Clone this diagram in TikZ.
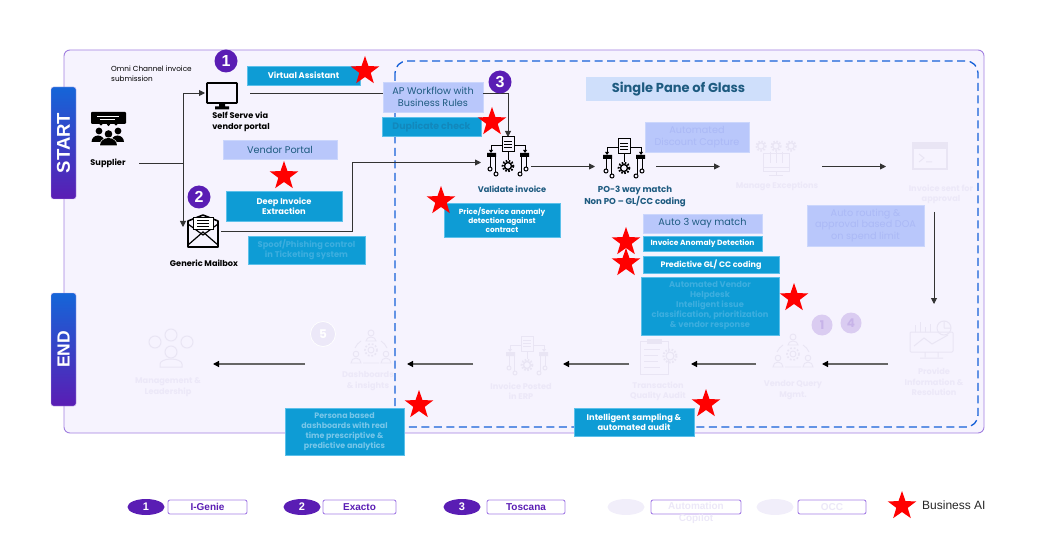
\documentclass[tikz,border=0pt]{standalone}
\usepackage{fontspec}
\setmainfont{Poppins}
\newfontfamily\arialf{Liberation Sans}
\usetikzlibrary{arrows.meta,shapes.geometric,calc}
\definecolor{panelfill}{HTML}{F6F3FE}
\definecolor{panelline}{HTML}{A17FE0}
\definecolor{dashblue}{HTML}{1560D8}
\definecolor{tealbox}{HTML}{0E9CD5}
\definecolor{tealedge}{HTML}{5CC0EA}
\definecolor{peri}{HTML}{B9C7FB}
\definecolor{periedge}{HTML}{CBD6FC}
\definecolor{ink}{HTML}{1E5B80}
\definecolor{pale}{HTML}{ECE8F8}
\definecolor{paleicon}{HTML}{E9E5F4}
\definecolor{violet}{HTML}{5A1DB4}
\definecolor{flowline}{HTML}{333333}
\definecolor{revline}{HTML}{666666}
\definecolor{fadeteal}{HTML}{3DAEDF}
\definecolor{fadeperi}{HTML}{ABB9F6}
\definecolor{legendline}{HTML}{A67FE6}
\definecolor{tabtop}{HTML}{1565D8}
\definecolor{spogfill}{HTML}{CFDFFB}
\definecolor{dupink}{HTML}{1288BC}
\definecolor{pillpale}{HTML}{F1EEFA}
\tikzset{
  anch/.style={inner sep=0pt,outer sep=0pt,minimum width=#1},
  anch/.default=10pt,
  flatbox/.style={rectangle,inner sep=0pt,outer sep=0pt,align=center},
  teal/.style={flatbox,fill=tealbox,draw=tealedge,line width=.5pt,text=white,font=\bfseries\fontsize{8.3}{10}\selectfont},
  tealfade/.style={teal,text=fadeteal},
  peribox/.style={flatbox,fill=peri,draw=periedge,line width=.5pt,text=ink,font=\fontsize{9.7}{11.6}\selectfont},
  perifade/.style={peribox,text=fadeperi},
  bizstar/.style={star,star points=5,star point ratio=2.5,fill=red,inner sep=0pt,minimum size=30pt},
  badge/.style={circle,fill=violet,text=white,inner sep=0pt,minimum size=23pt,font=\arialf\bfseries\fontsize{16}{16}\selectfont},
  ghostbadge/.style={circle,inner sep=0pt,minimum size=21pt},
  lab/.style={align=center,inner sep=0pt,font=\bfseries\fontsize{8.2}{10.4}\selectfont},
  inklab/.style={lab,text=ink},
  palelab/.style={lab,text=pale},
  flow/.style={draw=flowline,line width=.9pt,-{Triangle[length=6pt,width=6pt]}},
  plainflow/.style={draw=flowline,line width=.9pt},
  rev/.style={draw=revline,line width=1.3pt,-{Triangle[length=6pt,width=6pt,color=black]}},
  legpill/.style={ellipse,inner sep=0pt,minimum width=37pt,minimum height=16pt,fill=violet,text=white,font=\arialf\bfseries\fontsize{11}{11}\selectfont},
  legbox/.style={rectangle,rounded corners=2pt,draw=legendline,line width=.9pt,fill=white,inner sep=0pt,text=violet,font=\arialf\bfseries\fontsize{10}{10}\selectfont},
  tab/.style={rectangle,rounded corners=2.5pt,top color=tabtop,bottom color=violet,draw=panelline!60,line width=.4pt,text=white,inner sep=0pt,minimum width=25pt,minimum height=#1,font=\arialf\bfseries\fontsize{18.5}{18.5}\selectfont},
}
% box from corners: name x1 y1 x2 y2 style text
\newcommand{\bx}[7]{\node[#6,minimum width={(#4-#2)*1pt},minimum height={(#5-#3)*1pt}] (#1) at ({(#2+#4)/2},{(#3+#5)/2}) {#7};}
% flowchart icon, centre x y colour
\newcommand{\procicon}[3]{%
\begin{scope}[shift={(#1,#2)},line width=1pt,draw=#3]
 \draw[fill=none] (-6,-20) rectangle (6,-5);
 \draw[line width=.7pt] (-4,-16)--(4,-16) (-4,-13)--(4,-13) (-4,-10)--(4,-10);
 \draw (-6,-11)-- (-17,-11)--(-17,-6) (6,-11)--(17,-11)--(17,-6) (0,-5)--(0,3);
 \fill[#3] (-19,-7)--(-15,-7)--(-17,-4)--cycle (19,-7)--(15,-7)--(17,-4)--cycle;
 \fill[#3] (-21,-4) rectangle (-12,0) (12,-4) rectangle (21,0);
 \draw (-18,0)--(-18,10) (-13,0)--(-13,15) (18,0)--(18,10) (13,0)--(13,15);
 \draw (-18,12) circle (2) (-12,17) circle (2) (18,12) circle (2) (12,17) circle (2);
 \draw[line width=1.4pt] (0,9) circle (3.5);
 \draw[line width=2pt,dash pattern=on 1.6pt off 1.6pt] (0,9) circle (5.4);
\end{scope}}
% circle of people icon
\newcommand{\peopleicon}[3]{%
\begin{scope}[shift={(#1,#2)},line width=.9pt,draw=#3]
 \draw (0,-16) circle (3) (-15,5) circle (2.8) (15,5) circle (2.8);
 \draw (-5,-8) arc (180:360:5 and 4) -- cycle;
 \draw (-20,14) arc (180:360:5 and 5) -- cycle (10,14) arc (180:360:5 and 5) -- cycle;
 \draw (-10,-8) to[bend right=15] (-16,-1) (10,-8) to[bend left=15] (16,-1) (-8,14)--(8,14);
 \draw (0,1) circle (3);
 \draw[line width=1.6pt,dash pattern=on 1.8pt off 1.8pt] (0,1) circle (6);
\end{scope}}
\begin{document}
\begin{tikzpicture}[x=1pt,y=-1pt]
\useasboundingbox (0,0) rectangle (1046,545);
% panels
\draw[rounded corners=6pt,draw=panelline,line width=.9pt,fill=panelfill] (64,50) rectangle (984,433);
\draw[rounded corners=12pt,draw=dashblue,line width=1.3pt,dash pattern=on 8pt off 4.5pt] (395,61) rectangle (978,427);
% side tabs
\node[tab=112pt] (starttab) at (63.5,143) {\rotatebox{90}{START}};
\node[tab=113pt,font=\arialf\bfseries\fontsize{17.5}{17.5}\selectfont] (endtab) at (63.5,349.5) {\rotatebox{90}{END}};
% invisible anchors of the stages
\node[anch=62pt,minimum height=12pt] (supplier) at (108,163) {};
\node[anch=45pt,minimum height=34pt] (selfserve) at (227.5,93) {};
\node[anch=38pt,minimum height=38pt] (mailbox) at (202,231) {};
\node[anch=50pt,minimum height=59pt] (validate) at (506,166.5) {};
\node[anch=61pt,minimum height=40pt] (pomatch) at (625.5,166.5) {};
\node[anch=102pt,minimum height=40pt] (manage) at (771,166.5) {};
\node[anch=96pt,minimum height=91pt] (approval) at (934,166.5) {};
\node[anch=92pt,minimum height=120pt] (provide) at (934,364) {};
\node[anch=66pt,minimum height=40pt] (vendorq) at (789,364) {};
\node[anch=62pt,minimum height=40pt] (audit) at (660,364) {};
\node[anch=90pt,minimum height=40pt] (posted) at (518,364) {};
\node[anch=102pt,minimum height=40pt] (dash) at (356,364) {};
\node[anch=86pt,minimum height=40pt] (mgmt) at (170,364) {};
\coordinate (j1) at (183,163);
\coordinate (bend) at (352,162.5);
% boxes (before connectors that pass behind)
\bx{ap}{383}{82}{483}{112}{peribox}{AP Workflow with\\Business Rules}
% connectors
\draw[plainflow] (supplier.east) -- (j1);
\draw[flow] (j1) |- (selfserve.west);
\draw[flow] (j1) -- ([yshift=4pt]j1 |- mailbox.west);
\draw[plainflow] (selfserve.east) -- (selfserve.east -| ap.west);
\coordinate (apr) at (selfserve.east -| ap.east);
\draw[flow] (apr) -| ([xshift=2pt]validate.north);
\draw[plainflow] (mailbox.east) -| (bend);
\draw[flow] (bend) -- ([yshift=4pt]validate.west);
\draw[flow] (validate.east) -- (pomatch.west);
\draw[flow] (pomatch.east) -- (manage.west);
\draw[flow] (manage.east) -- (approval.west);
\draw[flow] (approval.south) -- (provide.north);
\draw[rev] (provide.west) -- (vendorq.east);
\draw[rev] (vendorq.west) -- (audit.east);
\draw[rev] (audit.west) -- (posted.east);
\draw[rev] (posted.west) -- (dash.east);
\draw[rev] (dash.west) -- (mgmt.east);
% icons: supplier
\fill[rounded corners=1pt,black] (91,112) rectangle (126,124);
\fill[black] (101,124) circle (1.6) (108.5,124.5) circle (1.6) (116,124) circle (1.6);
\draw[white,line width=.8pt] (97,116)--(119,116) (100,119)--(115,119);
\fill[black] (99,131) circle (3.4) (118,131) circle (3.4) (108.5,134) circle (3.8);
\fill[black] (91.5,142) arc (180:360:6.5 and 6.5) -- cycle (111,142) arc (180:360:6.5 and 6.5) -- cycle;
\fill[white] (99,146) arc (180:360:9.5 and 8.5) -- cycle;
\fill[black] (100,145.5) arc (180:360:8.5 and 7.5) -- cycle;
% icon: monitor
\draw[black,line width=1.6pt,rounded corners=.5pt] (207,83) rectangle (237,103);
\fill[black] (219,103) rectangle (225,107) (215,106.5) rectangle (229,109.5);
% icon: mail
\draw[black,line width=1.6pt,line join=round] (188,221) -- (203,215) -- (218,221) -- (218,247) -- (188,247) -- cycle;
\draw[black,line width=1.2pt] (188,245) -- (203,232) -- (218,245);
\draw[black,line width=1.2pt] (188,224) -- (203,235) -- (218,224);
\fill[white,draw=black,line width=1pt] (193,218) rectangle (213,230);
\draw[black,line width=1pt] (197,221)--(209,221) (197,224)--(209,224) (197,227)--(209,227);
% icons: process
\procicon{508}{157}{black}
\procicon{624}{159}{black}
\procicon{527}{356}{paleicon}
% icon: exceptions (pale)
\begin{scope}[shift={(776,160)},draw=paleicon,line width=1pt]
 \draw[line width=1.1pt] (-15,-14) circle (3.2) (0,-14) circle (3.2) (15,-14) circle (3.2);
 \draw[line width=1.8pt,dash pattern=on 1.6pt off 1.6pt] (-15,-14) circle (4.8) (0,-14) circle (4.8) (15,-14) circle (4.8);
 \draw (-13,-6) rectangle (13,12) (-6,-8)--(-6,3) (0,-8)--(0,3) (6,-8)--(6,3) (-13,8)--(13,8) (0,12)--(0,16) (-7,16)--(7,16);
\end{scope}
% icon: terminal (pale)
\fill[paleicon] (912,142) rectangle (948,170);
\fill[panelfill] (914,149) rectangle (946,168);
\draw[paleicon,line width=1pt] (919,154)--(924,158)--(919,162) (926,162)--(932,162);
% icon: provide information (pale)
\begin{scope}[draw=paleicon,line width=1pt]
 \draw[rounded corners=1pt] (910,332) rectangle (953,352) (925,352)--(925,357) (938,352)--(938,357) (920,358)--(943,358);
 \draw (914,346)--(924,338)--(932,344)--(948,335);
 \draw (915,332)--(915,325) (920,332)--(920,322) (925,332)--(925,327) (930,332)--(930,324);
 \draw (944,328) circle (7) (944,328)--(944,321) (944,328)--(951,328);
\end{scope}
% icon: audit (pale)
\begin{scope}[draw=paleicon,line width=1pt]
 \draw (640,341) rectangle (668,374);
 \draw[fill=paleicon] (647,339) rectangle (661,343);
 \draw (644,349)--(660,349) (644,355)--(658,355) (644,361)--(658,361) (644,367)--(660,367);
 \draw[line width=1.1pt,fill=panelfill] (670,356) circle (4);
 \draw[line width=2pt,dash pattern=on 1.6pt off 1.6pt] (670,356) circle (6.5);
\end{scope}
\peopleicon{793}{353}{paleicon}
\peopleicon{371}{349}{paleicon}
% icon: management (pale)
\begin{scope}[draw=paleicon,line width=1pt]
 \draw (155,342) circle (6) (171,335) circle (6) (187,342) circle (6);
 \draw (171,352) circle (6);
 \draw (160,367) -- (160,364) arc (180:360:11 and 5) -- (182,367) -- cycle;
\end{scope}
% pale numbered circles
\node[ghostbadge,fill=violet!18!panelfill,text=violet!30!panelfill,font=\bfseries\fontsize{12}{12}\selectfont] (g1) at (822,325) {1};
\node[ghostbadge,fill=violet!18!panelfill,text=violet!30!panelfill,font=\bfseries\fontsize{12}{12}\selectfont] (g4) at (851,323) {4};
\node[ghostbadge,minimum size=25pt,fill=pale,draw=white,line width=.7pt,text=white,font=\bfseries\fontsize{12}{12}\selectfont] (g5) at (323,334) {5};
% boxes
\bx{va}{247}{66}{360}{85}{teal}{Virtual Assistant}
\bx{vp}{223}{140}{337}{159}{peribox}{Vendor Portal}
\bx{deep}{226}{191}{342}{221}{teal}{Deep Invoice\\Extraction}
\bx{spoof}{248}{236}{365}{264}{tealfade}{Spoof/Phishing control\\in Ticketing system}
\bx{dup}{382}{117}{481}{136}{teal,text=dupink,font=\bfseries\fontsize{9.4}{11}\selectfont}{Duplicate check}
\bx{price}{444}{203}{560}{237}{teal,font=\bfseries\fontsize{7.4}{9.3}\selectfont}{Price/Service anomaly\\detection against\\contract}
\bx{spog}{586}{77}{771}{101}{flatbox,fill=spogfill,text=ink,font=\fontsize{13}{14}\selectfont\bfseries}{Single Pane of Glass}
\bx{adc}{645}{122}{749}{152}{perifade}{Automated\\Discount Capture}
\bx{a3w}{643}{214}{762}{233}{peribox}{Auto 3 way match}
\bx{anom}{643}{236}{762}{251}{teal,font=\bfseries\fontsize{7.5}{9}\selectfont}{Invoice Anomaly Detection}
\bx{pred}{643}{256}{779}{273}{teal,font=\bfseries\fontsize{8}{10}\selectfont}{Predictive GL/ CC coding}
\bx{help}{641}{277}{779}{335}{tealfade}{Automated Vendor\\Helpdesk\\Intelligent issue\\classification, prioritization\\\& vendor response}
\bx{route}{807}{205}{924}{246}{perifade}{Auto routing \&\\approval based DOA\\on spend limit}
\bx{persona}{285}{408}{404}{455}{tealfade,text=fadeteal!70!white,font=\bfseries\fontsize{7.9}{10.2}\selectfont}{Persona based\\dashboards with real\\time prescriptive \&\\predictive analytics}
\bx{sampling}{574}{408}{694}{436}{teal}{Intelligent sampling \&\\automated audit}
% stars
\node[bizstar] (s1) at (365,71) {};
\node[bizstar] (s2) at (284,176) {};
\node[bizstar] (s3) at (492,122) {};
\node[bizstar] (s4) at (441,201) {};
\node[bizstar] (s5) at (626,242) {};
\node[bizstar] (s6) at (626,263) {};
\node[bizstar] (s7) at (794,298) {};
\node[bizstar] (s8) at (419,405) {};
\node[bizstar] (s9) at (706,404) {};
% badges
\node[badge] (b1) at (226,61) {1};
\node[badge] (b2) at (199,197) {2};
\node[badge] (b3) at (500,82) {3};
% labels
\node[lab,align=left,anchor=west,font=\fontsize{7.3}{9.6}\selectfont] (omni) at (111,73.5) {Omni Channel invoice\\submission};
\node[lab] (supl) at (108,163) {Supplier};
\node[lab,align=left] (ssl) at (241,122) {Self Serve via\\vendor portal};
\node[lab] (gml) at (204,263) {Generic Mailbox};
\node[inklab] (vil) at (512,189) {Validate invoice};
\node[inklab,font=\bfseries\fontsize{8.6}{10.4}\selectfont] (pol) at (635,196.5) {PO-3 way match\\Non PO – GL/CC coding};
\node[palelab] (mel) at (777,186) {Manage Exceptions};
\node[palelab] (isl) at (941,194.5) {Invoice sent for\\approval};
\node[palelab] (pil) at (934,382) {Provide\\Information \&\\Resolution};
\node[palelab] (vql) at (793,390) {Vendor Query\\Mgmt.};
\node[palelab] (tql) at (658,391.5) {Transaction\\Quality Audit};
\node[palelab] (ipl) at (521,391.5) {Invoice Posted\\in ERP};
\node[palelab] (dil) at (368,381) {Dashboards\\\& insights};
\node[palelab] (mll) at (168,387) {Management \&\\Leadership};
% legend
\node[legpill] (l1) at (146,507) {1};
\node[legbox,minimum width=79pt,minimum height=14pt] (l1b) at (207.5,507) {I-Genie};
\node[legpill] (l2) at (302,507) {2};
\node[legbox,minimum width=73pt,minimum height=14pt] (l2b) at (359.5,507) {Exacto};
\node[legpill] (l3) at (462,507) {3};
\node[legbox,minimum width=78pt,minimum height=14pt] (l3b) at (526,507) {Toscana};
\node[legpill,fill=pillpale] (l4) at (626,507) {};
\node[legbox,minimum width=90pt,minimum height=14pt] (l4b) at (696,507) {};
\node[align=center,inner sep=0pt,text=pale,font=\arialf\bfseries\fontsize{10}{12}\selectfont] (l4t) at (696,513) {Automation\\Copilot};
\node[legpill,fill=pillpale] (l5) at (775,507) {};
\node[legbox,text=pale,minimum width=68pt,minimum height=14pt] (l5b) at (832,507) {OCC};
\node[bizstar] (ls) at (902,506) {};
\node[anchor=west,inner sep=0pt,font=\arialf\fontsize{12}{12}\selectfont,text=black!85] (lt) at (922,505.5) {Business AI};
\end{tikzpicture}
\end{document}
